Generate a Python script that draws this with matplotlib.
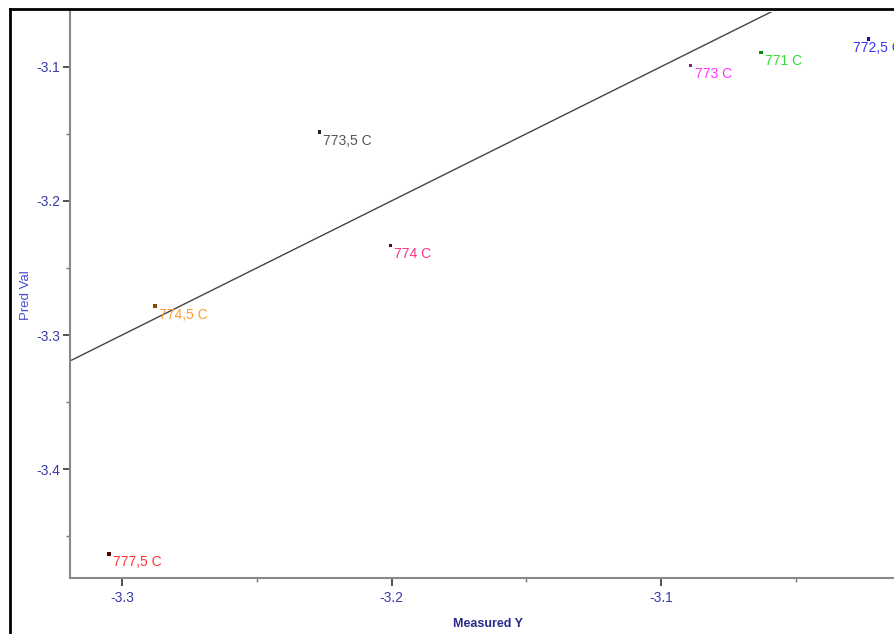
import matplotlib
matplotlib.use("Agg")
import matplotlib.pyplot as plt
from matplotlib.lines import Line2D
from matplotlib.ticker import MultipleLocator, FixedLocator

plt.rcParams['font.family'] = ['Liberation Sans', 'DejaVu Sans']
plt.rcParams['axes.unicode_minus'] = False

# ---- data ----
labels = ["777,5 C", "774,5 C", "773,5 C", "774 C", "773 C", "771 C", "772,5 C"]
measured = [-3.3048, -3.2878, -3.2268, -3.2004, -3.0890, -3.0629, -3.0231]
predicted = [-3.4632, -3.2784, -3.1487, -3.2331, -3.0993, -3.0893, -3.0794]
label_colors = ["#ff3333", "#ff9a33", "#555555", "#ff3388", "#ff33ff", "#33dd33", "#3333ff"]
point_colors = ["#550000", "#884400", "#222222", "#660022", "#882288", "#118811", "#1111aa"]
x_ticks = [-3.3, -3.2, -3.1]
y_ticks = [-3.1, -3.2, -3.3, -3.4]
x_lim = (-3.3193, -3.01354)
y_lim = (-3.4811, -3.0592)

fig = plt.figure(figsize=(8.94, 6.34), dpi=100)
ax = fig.add_axes([70/894, 56/634, 824/894, 566/634])

# identity line
ax.plot([x_lim[0], y_lim[1] + 1], [x_lim[0], y_lim[1] + 1], color="#444444", lw=1.0)

ax.scatter(measured, predicted, s=6, marker='s', c=point_colors, zorder=3, linewidths=0)
for lab, x, y, c in zip(labels, measured, predicted, label_colors):
    off = (-15, -8.5) if lab == "772,5 C" else (4, -8.5)
    ax.annotate(lab, (x, y), xytext=off, textcoords='offset pixels',
                ha='left', va='center', color=c, fontsize=10, clip_on=False)

ax.set_xlim(*x_lim)
ax.set_ylim(*y_lim)
ax.xaxis.set_major_locator(FixedLocator(x_ticks))
ax.yaxis.set_major_locator(FixedLocator(y_ticks))
ax.xaxis.set_minor_locator(MultipleLocator(0.05))
ax.yaxis.set_minor_locator(MultipleLocator(0.05))
ax.set_xticklabels([f"{v:.1f}" for v in x_ticks])
ax.set_yticklabels([f"{v:.1f}" for v in y_ticks])

for s in ['top', 'right']:
    ax.spines[s].set_visible(False)
for s in ['left', 'bottom']:
    ax.spines[s].set_color('#888888')
    ax.spines[s].set_linewidth(1.5)

ax.tick_params(axis='x', which='major', length=6, width=1.2, color='#333333',
               labelsize=10, labelcolor='#3a3aa8', pad=3)
ax.tick_params(axis='y', which='major', length=5, width=1.2, color='#333333',
               labelsize=10, labelcolor='#3a3aa8', pad=2)
ax.tick_params(which='minor', length=3, width=1.0, color='#777777')

ax.set_xlabel("Measured Y", fontsize=9, fontweight='bold', color='#2a2a8a')
ax.xaxis.set_label_coords(0.507, -0.0707)
ax.set_ylabel("Pred Val", fontsize=9.5, color='#4a4acc')
ax.yaxis.set_label_coords(-0.046, 0.5)

# outer frame lines
fig.add_artist(Line2D([10/894, 10/894], [0, 1 - 9/634], transform=fig.transFigure,
                      color='black', lw=2))
fig.add_artist(Line2D([10/894, 1], [1 - 9/634, 1 - 9/634], transform=fig.transFigure,
                      color='black', lw=2))

fig.savefig("out.png", dpi=100)
